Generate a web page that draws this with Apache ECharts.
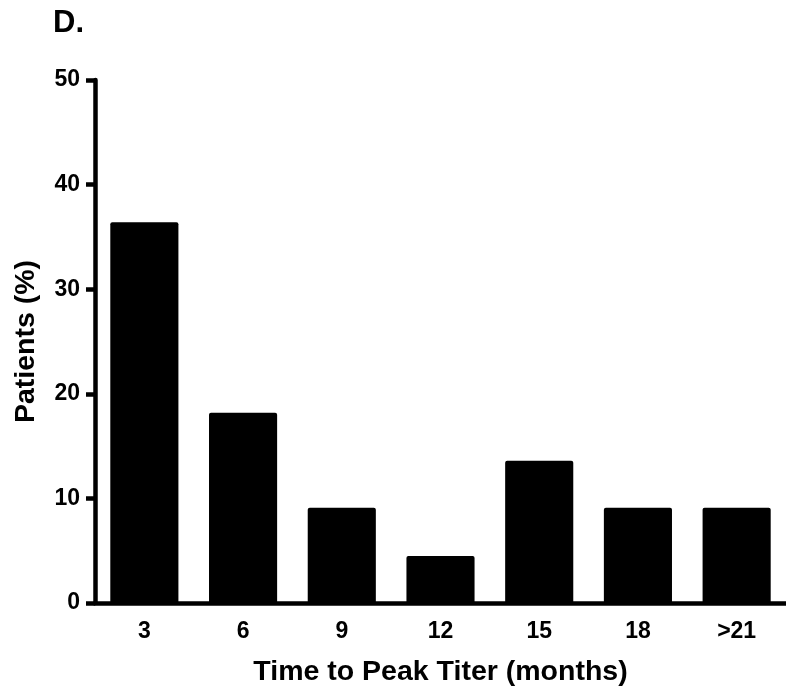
<!DOCTYPE html>
<html>
<head>
<meta charset="utf-8">
<script src="https://cdn.jsdelivr.net/npm/echarts@6/dist/echarts.min.js"></script>
<style>
  html, body { margin: 0; padding: 0; background: #fff; }
  #chart { width: 786px; height: 692px; }
</style>
</head>
<body>
<div id="chart"></div>
<script>
// time to peak titer, months
const categories = ['3', '6', '9', '12', '15', '18', '>21']
// percent of patients
const patients = [36.4, 18.2, 9.1, 4.5, 13.6, 9.1, 9.1]
const yTicks = { min: 0, max: 50, interval: 10 }

const font = 'Liberation Sans, Arial, Helvetica, sans-serif'
const chart = echarts.init(document.getElementById('chart'))

chart.setOption({
  animation: false,
  title: {
    text: 'D.',
    left: 48,
    top: 3,
    textStyle: { fontFamily: font, fontSize: 31, fontWeight: 'bold', color: '#000' }
  },
  grid: {
    left: 95,
    right: -5,
    top: 80,
    bottom: 88,
    containLabel: false
  },
  xAxis: {
    type: 'category',
    data: categories,
    name: 'Time to Peak Titer (months)',
    nameLocation: 'middle',
    nameGap: 55,
    nameTextStyle: { fontFamily: font, fontSize: 28.5, fontWeight: 'bold', color: '#000' },
    axisLine: { lineStyle: { color: '#000', width: 4.5 } },
    axisTick: { alignWithLabel: true, length: 9, lineStyle: { color: '#000', width: 4.5 } },
    axisLabel: { margin: 17, fontFamily: font, fontSize: 23, fontWeight: 'bold', color: '#000' }
  },
  yAxis: {
    type: 'value',
    min: yTicks.min,
    max: yTicks.max,
    interval: yTicks.interval,
    name: 'Patients (%)',
    nameLocation: 'middle',
    nameGap: 54,
    nameTextStyle: { fontFamily: font, fontSize: 28.5, fontWeight: 'bold', color: '#000' },
    axisLine: { show: true, lineStyle: { color: '#000', width: 4.5 } },
    axisTick: { show: true, length: 9, lineStyle: { color: '#000', width: 4.5 } },
    splitLine: { show: false },
    axisLabel: { margin: 15, fontFamily: font, fontSize: 23, fontWeight: 'bold', color: '#000' }
  },
  series: [{
    type: 'bar',
    data: patients,
    barWidth: '69%',
    itemStyle: { color: '#000', borderRadius: [2, 2, 0, 0] }
  }]
})
</script>
</body>
</html>
